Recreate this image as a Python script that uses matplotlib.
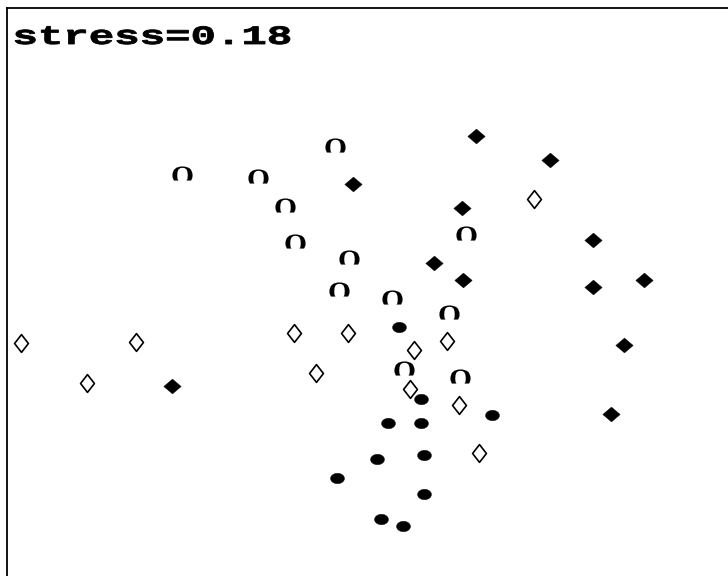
import numpy as np
import matplotlib
matplotlib.use("Agg")
import matplotlib.pyplot as plt
from matplotlib.path import Path
from matplotlib.patches import PathPatch
from matplotlib.textpath import TextPath
from matplotlib.font_manager import FontProperties
from matplotlib.transforms import Affine2D

# NMDS scores, one group per symbol
open_o_x = [-0.35, -1.88, -1.12, -0.85, -0.75, 0.96, -0.21, -0.31, 0.22, 0.79, 0.34, 0.90]
open_o_y = [1.55, 1.27, 1.24, 0.95, 0.59, 0.67, 0.43, 0.11, 0.03, -0.12, -0.68, -0.76]

filled_dia_x = [1.06, 1.80, -0.17, 0.92, 2.23, 0.64, 0.93, 2.23, 2.74, 2.54, -1.98, 2.41]
filled_dia_y = [1.64, 1.40, 1.16, 0.92, 0.60, 0.37, 0.20, 0.13, 0.20, -0.45, -0.86, -1.14]

open_dia_x = [1.64, -3.49, -2.34, -2.83, -0.76, -0.22, -0.54, 0.44, 0.77, 0.40, 0.89, 1.09]
open_dia_y = [1.01, -0.43, -0.42, -0.83, -0.33, -0.33, -0.73, -0.50, -0.41, -0.89, -1.05, -1.53]

dot_x = [0.29, 0.51, 0.18, 0.51, 1.22, 0.07, 0.54, -0.33, 0.54, 0.11, 0.33]
dot_y = [-0.27, -0.99, -1.23, -1.23, -1.15, -1.59, -1.55, -1.78, -1.94, -2.19, -2.26]

stress_label = "stress=0.18"


def diamond(w, h):
    return Path([(-w, 0), (0, h), (w, 0), (0, -h), (-w, 0)], closed=True)


def ellipse(w, h, n=40):
    t = np.linspace(0, 2 * np.pi, n)
    return Path(np.column_stack([w * np.cos(t), h * np.sin(t)]), closed=True)


def cut_o():
    # serif "O" glyph with its lower part sliced off
    tp = TextPath((0, 0), "O", size=10,
                  prop=FontProperties(family="Liberation Serif", weight="bold"))
    polys = tp.to_polygons()
    allv = np.vstack(polys)
    ymin, ymax = allv[:, 1].min(), allv[:, 1].max()
    cut = ymin + 0.22 * (ymax - ymin)
    parts = []
    for p in polys:
        q = p.copy()
        q[:, 1] = np.maximum(q[:, 1], cut)
        parts.append(Path(q, closed=True))
    path = Path.make_compound_path(*parts)
    v = path.vertices
    cx = (v[:, 0].min() + v[:, 0].max()) / 2
    cy = (v[:, 1].min() + v[:, 1].max()) / 2
    # widen it a little
    return Path(np.column_stack([(v[:, 0] - cx) * 1.1, v[:, 1] - cy]), path.codes)


fig = plt.figure(figsize=(7.28, 5.76), dpi=100)
ax = fig.add_axes([7 / 728, 0, 1 - 7 / 728, 1 - 8 / 576])
ax.set_xlim(-3.63, 3.58)
ax.set_ylim(-2.76, 2.92)
ax.set_xticks([])
ax.set_yticks([])
for s in ["right", "bottom"]:
    ax.spines[s].set_visible(False)
for s in ["left", "top"]:
    ax.spines[s].set_linewidth(1.3)

ax.plot(open_o_x, open_o_y, ls="none", marker=cut_o(), ms=14.5,
        mfc="black", mec="none", mew=0)
ax.plot(filled_dia_x, filled_dia_y, ls="none", marker=diamond(1, 0.85), ms=12.5,
        mfc="black", mec="black", mew=0.3)
ax.plot(open_dia_x, open_dia_y, ls="none", marker=diamond(0.78, 1), ms=12.8,
        mfc="white", mec="black", mew=1.2)
ax.plot(dot_x, dot_y, ls="none", marker=ellipse(1, 0.75), ms=10,
        mfc="black", mec="black", mew=0.3)

# stress label: bold mono, stretched sideways like the original
prop = FontProperties(family="Liberation Mono", weight="bold")
tp = TextPath((0, 0), stress_label, size=10, prop=prop)
digit = TextPath((0, 0), "0", size=10, prop=prop).get_extents()
ext = tp.get_extents()
sx = 275 / ext.width
sy = 18 / digit.height
tr = (Affine2D().translate(-ext.x0, 0).scale(sx / 100, sy / 100)
      .translate(15 / 100, (576 - 44) / 100) + fig.dpi_scale_trans)
fig.add_artist(PathPatch(tp, transform=tr, facecolor="black", edgecolor="black", lw=0.6))

fig.savefig("out.png", dpi=100)
